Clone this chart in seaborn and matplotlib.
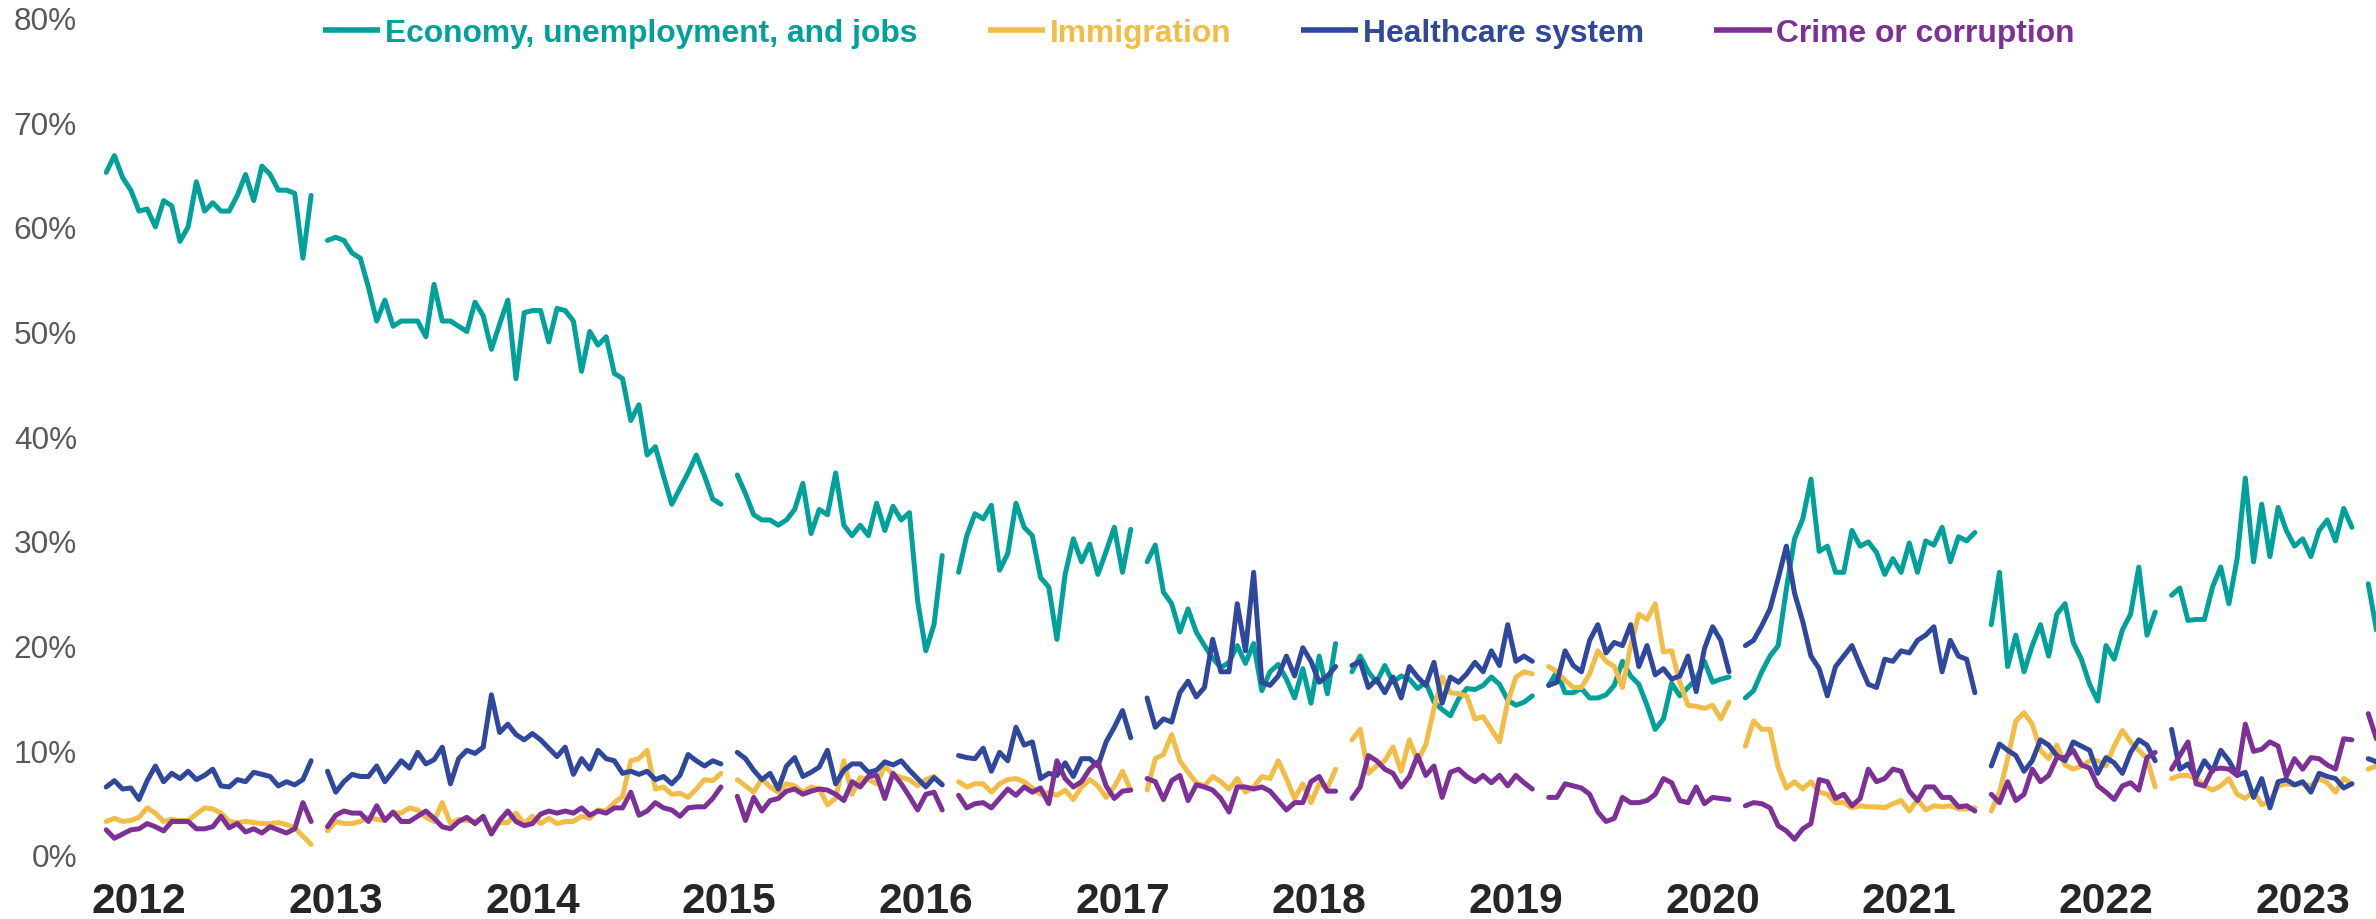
import numpy as np
import pandas as pd
import matplotlib
matplotlib.use("Agg")
import matplotlib.pyplot as plt
from matplotlib.lines import Line2D
import seaborn as sns

nan = float("nan")

series_names = ["Economy, unemployment, and jobs", "Immigration",
                "Healthcare system", "Crime or corruption"]
series_colors = ["#00A19A", "#F2BD47", "#2F479C", "#7D3096"]
year_ticks = list(range(2012, 2024))
pct_ticks = list(range(0, 81, 10))

# Semi-monthly readings (%), first reading = start of Nov 2011; nan = missing week (line break)
economy = [
    65.2, 66.8, 64.7, 63.5,
    61.5, 61.7, 60, 62.5, 62, 58.6, 60, 64.3, 61.5, 62.3, 61.5, 61.5, 63, 65, 62.5, 65.8, 65, 63.5, 63.5, 63.2, 57, 63, nan, 58.7,
    59, 58.7, 57.5, 57, 54.2, 51, 53, 50.5, 51, 51, 51, 49.5, 54.5, 51, 51, 50.5, 50, 52.8, 51.5, 48.3, 50.7, 53, 45.5, 51.8,
    52, 52, 49, 52.2, 52, 51, 46.2, 50, 48.7, 49.5, 46, 45.5, 41.5, 43, 38.2, 39, 36.2, 33.5, 35, 36.5, 38.2, 36.2, 34, 33.5,
    nan, 36.3, 34.5, 32.5, 32, 32, 31.5, 32, 33, 35.5, 30.7, 33, 32.5, 36.5, 31.5, 30.5, 31.5, 30.5, 33.6, 31, 33.3, 32, 32.7, 24.3,
    19.5, 22, 28.6, nan, 27, 30.5, 32.6, 32.1, 33.4, 27.2, 28.8, 33.6, 31.3, 30.5, 26.5, 25.6, 20.6, 26.8, 30.2, 28, 29.7, 26.8, 29, 31.3,
    27, 31.1, nan, 28, 29.6, 25.1, 24, 21.3, 23.5, 21.3, 20, 18.8, 17.9, 18.4, 20, 18.3, 20.2, 15.7, 17.5, 18.2, 16.8, 15, 17.8, 14.5,
    19, 15.4, 20.2, nan, 17.5, 19, 17.5, 16.5, 18.1, 16.5, 17.1, 16.8, 15.9, 16.5, 14.6, 13.9, 13.3, 14.9, 15.9, 15.8, 16.2, 17, 16.3, 14.8,
    14.3, 14.6, 15.2, nan, 16.2, 17.5, 15.5, 15.5, 15.9, 15, 15, 15.3, 16.2, 18.5, 17.1, 16.3, 14.3, 12, 13, 16.4, 15.2, 16, 16.8, 18.5,
    16.5, 16.8, 17, nan, 15, 15.7, 17.5, 19, 20, 25.4, 30.2, 32.1, 35.9, 29, 29.5, 27, 27, 31, 29.5, 29.9, 28.9, 26.8, 28.3, 27,
    29.8, 27, 30, 29.6, 31.3, 28, 30.4, 30, 30.8, nan, 22, 27, 18, 21, 17.5, 20, 22, 19, 23, 24, 20.3, 18.7, 16.3, 14.7,
    20, 18.7, 21.5, 23, 27.5, 21, 23.2, nan, 24.8, 25.5, 22.4, 22.5, 22.5, 25.6, 27.5, 24, 28.3, 36, 28, 33.5, 28.5, 33.2, 31, 29.5,
    30.2, 28.5, 31, 32, 30, 33.1, 31.3, nan, 25.9, 21.5,
]

immigration = [
    3.2, 3.5, 3.2, 3.3,
    3.6, 4.5, 4, 3.2, 3.4, 3.3, 3.3, 3.9, 4.5, 4.4, 4, 3.2, 3.1, 3.2, 3.1, 3, 3, 3.1, 2.9, 2.6, 1.8, 1.0, nan, 2.3,
    3.2, 3, 3, 3.2, 3.6, 3.4, 3.3, 4, 4, 4.5, 4.3, 3.6, 3.2, 5, 3, 3.4, 3.3, 3.2, 3.5, 2.3, 3.1, 3.1, 4, 3,
    3.7, 3, 3.5, 3, 3.2, 3.2, 3.7, 3.5, 4.3, 4.2, 5, 5.6, 9, 9.2, 10, 6.3, 6.5, 5.8, 5.9, 5.5, 6.3, 7.2, 7.1, 7.8,
    nan, 7.2, 6.6, 6, 7.3, 6.5, 6, 6.8, 6.6, 6, 6.5, 6.3, 4.8, 5.4, 9, 5.8, 7.4, 7.2, 6.8, 8.5, 7.7, 7.4, 7.2, 6.6,
    7.2, 7.5, 6.8, nan, 7, 6.5, 6.8, 6.8, 6, 6.8, 7.2, 7.3, 7, 6.4, 5.8, 6, 5.7, 6.2, 5.3, 6.5, 7.2, 6.6, 5.5, 6.5,
    8, 6.2, nan, 6.2, 9.2, 9.6, 11.5, 9, 7.9, 6.9, 6.6, 7.5, 7, 6.3, 7.3, 6, 6.5, 7.5, 7.3, 9, 7.3, 5.4, 6.8, 5,
    6.8, 6.4, 8.2, nan, 11, 12, 7.8, 8.5, 9, 10.3, 8, 11, 9, 10.5, 14, 17, 15.5, 15.4, 15.2, 13, 13.2, 12, 10.8, 14.6,
    17, 17.5, 17.3, nan, 18, 17.5, 16.7, 16, 16, 17.3, 19.5, 18.5, 18, 16, 20, 23, 22.5, 24, 19.4, 19.5, 16.5, 14.3, 14.2, 14,
    14.3, 13, 14.6, nan, 10.4, 12.8, 12, 12, 8.4, 6.4, 7, 6.3, 7, 6, 5.8, 5, 5, 4.5, 4.7, 4.6, 4.6, 4.5, 4.9, 5.2,
    4.2, 5.3, 4.3, 4.7, 4.6, 4.7, 4.4, 4.4, 4.5, nan, 4.2, 6, 9.2, 12.8, 13.6, 12.5, 10, 9.2, 10.5, 8.6, 8.2, 8.5, 9, 9,
    8.5, 10.4, 11.9, 10.8, 10, 9.2, 6.5, nan, 7.3, 7.6, 7.6, 7.3, 6.6, 6.2, 6.6, 7.3, 5.8, 5.4, 6.1, 4.8, 5.1, 6.6, 6.8, 6.7,
    6.8, 6.6, 7.3, 6.9, 6, 7.3, 6.8, nan, 8.2, 8.5,
]

healthcare = [
    6.5, 7.1, 6.3, 6.4,
    5.3, 7.1, 8.5, 7, 7.8, 7.3, 8, 7.2, 7.6, 8.2, 6.6, 6.5, 7.2, 7, 7.9, 7.7, 7.5, 6.6, 7, 6.7, 7.2, 9, nan, 8,
    6, 7, 7.7, 7.5, 7.5, 8.5, 7, 8, 9, 8.3, 9.8, 8.7, 9.1, 10.3, 6.8, 9.2, 10, 9.7, 10.3, 15.3, 11.7, 12.5, 11.5, 11,
    11.6, 11, 10.2, 9.4, 10.3, 7.7, 9.2, 8.2, 10, 9.2, 9, 7.8, 8, 7.7, 8, 7.2, 7.5, 6.8, 7.6, 9.6, 9, 8.5, 9, 8.7,
    nan, 9.8, 9.2, 8.1, 7.2, 7.8, 6.3, 8.5, 9.3, 7.5, 7.9, 8.4, 10, 6.8, 8.1, 8.7, 8.7, 7.9, 8.1, 8.9, 8.6, 9, 8.1, 7.3,
    6.5, 7.4, 6.7, nan, 9.5, 9.3, 9.2, 10.2, 8, 9.8, 9, 12.2, 10.5, 10.8, 7.3, 7.8, 7.6, 8.8, 7.5, 9.2, 9.2, 8.5, 10.8, 12.2,
    13.8, 11.2, nan, 15, 12.2, 13, 12.7, 15.5, 16.6, 15.1, 16, 20.6, 17.5, 17.5, 24, 19.5, 27, 16.5, 16.2, 17.1, 19, 17.1, 19.8, 18.5,
    16.5, 17.1, 18, nan, 18.1, 18.5, 16, 16.8, 15.5, 17, 15, 18, 17, 16.2, 18.4, 14.5, 17, 16.5, 17.3, 18.4, 17.5, 19.5, 18.1, 22,
    18.5, 19, 18.5, nan, 16.2, 16.5, 19.5, 18.1, 17.5, 20.5, 22, 19.3, 20.3, 20, 22, 18, 20, 17.2, 17.8, 16.8, 17.1, 19, 15.6, 19.7,
    21.8, 20.5, 17.5, nan, 20, 20.5, 21.9, 23.5, 26.4, 29.5, 25, 22.3, 19, 17.8, 15.2, 18, 19, 20, 18.1, 16.3, 16, 18.7, 18.5, 19.5,
    19.3, 20.5, 21, 21.8, 17.5, 20.5, 19, 18.7, 15.5, nan, 8.5, 10.6, 10, 9.5, 8, 9, 11, 10.5, 9.5, 9, 10.8, 10.4, 10, 7.8,
    9.3, 8.8, 7.8, 9.8, 11, 10.5, 9, nan, 12, 8.2, 8.7, 7.4, 9, 8, 10, 9, 7.6, 7.9, 5.5, 7.3, 4.5, 7, 7.2, 6.7,
    7, 6, 7.8, 7.5, 7.3, 6.4, 6.8, nan, 9.2, 8.9,
]

crime = [
    2.4, 1.6, 2, 2.4,
    2.5, 3, 2.7, 2.3, 3.2, 3.2, 3.2, 2.5, 2.5, 2.7, 3.7, 2.6, 3, 2.2, 2.5, 2.1, 2.7, 2.4, 2.1, 2.5, 5, 3.2, nan, 2.7,
    3.8, 4.2, 4, 4, 3.2, 4.7, 3.3, 4.1, 3.2, 3.2, 3.7, 4.2, 3.5, 2.7, 2.5, 3.2, 3.6, 3, 3.7, 2, 3.3, 4.2, 3.2, 2.8,
    3, 3.9, 4.2, 4, 4.2, 4, 4.5, 3.8, 4.2, 4, 4.5, 4.5, 6, 3.8, 4.2, 5, 4.5, 4.3, 3.7, 4.5, 4.6, 4.6, 5.4, 6.5,
    nan, 5.6, 3.3, 5.5, 4.2, 5.2, 5.4, 6.1, 6.3, 5.8, 6.1, 6.3, 6.2, 5.8, 5.2, 7, 6.5, 7.5, 7.6, 5.4, 7.8, 6.8, 5.6, 4.3,
    5.8, 6, 4.3, nan, 5.7, 4.5, 4.9, 5, 4.5, 5.4, 6.3, 5.7, 6.5, 6, 6.4, 4.9, 9, 7.3, 6.5, 7, 8.2, 8.9, 6.6, 5.4,
    6.1, 6.2, nan, 7.3, 7, 5.3, 7.1, 7.6, 5.2, 6.7, 6.5, 6.2, 5.4, 4.1, 6.5, 6.5, 6.3, 6.5, 6.1, 5.2, 4.3, 5, 5, 7,
    7.5, 6.1, 6.1, nan, 5.4, 6.5, 9.5, 9, 8.2, 7.8, 6.5, 7.5, 9.5, 7.6, 8.5, 5.5, 7.9, 8.2, 7.5, 7, 7.6, 6.9, 7.6, 6.6,
    7.6, 6.9, 6.3, nan, 5.5, 5.5, 6.8, 6.6, 6.4, 5.8, 4.1, 3.2, 3.5, 5.5, 5, 5, 5.2, 5.8, 7.3, 6.9, 5.2, 5, 6.5, 4.9,
    5.5, 5.4, 5.3, nan, 4.7, 5, 4.9, 4.5, 2.8, 2.3, 1.5, 2.5, 3, 7.2, 7, 5.4, 5.8, 4.7, 5.4, 8.2, 7, 7.3, 8.2, 8,
    6.1, 5.2, 6.5, 6.5, 5.5, 5.5, 4.6, 4.7, 4.2, nan, 5.8, 5, 7, 5.2, 5.8, 8.2, 7, 7.6, 9.3, 9.3, 10, 8.6, 8.3, 6.6,
    6, 5.3, 6.6, 6.9, 6.2, 9.3, 9.8, nan, 8.2, 9.5, 10.8, 6.8, 6.6, 8.2, 8.3, 8.2, 7.6, 12.5, 9.9, 10.1, 10.8, 10.4, 7.5, 9.2,
    8.2, 9.3, 9.2, 8.6, 8.2, 11.1, 11, nan, 13.5, 11.1,
]

# ---------------------------------------------------------------- data frame
frames = []
for name, vals in zip(series_names, [economy, immigration, healthcare, crime]):
    v = np.asarray(vals, dtype=float)
    t = 2011 + (20 + np.arange(len(v))) / 24.0
    seg = np.cumsum(np.isnan(v))
    df = pd.DataFrame({"t": t, "value": v, "series": name,
                       "segment": [f"{name}|{s}" for s in seg]})
    frames.append(df.dropna())
data = pd.concat(frames, ignore_index=True)

# ---------------------------------------------------------------- styling
sns.set_style("white")
plt.rcParams["font.family"] = ["Liberation Sans", "DejaVu Sans"]

W, H = 2376, 920
fig = plt.figure(figsize=(W / 100, H / 100), dpi=100)
px_left, px_right, px_bottom, px_top = 95, 2376, 856, 18.4
ax = fig.add_axes([px_left / W, 1 - px_bottom / H,
                   (px_right - px_left) / W, (px_bottom - px_top) / H])

sns.lineplot(data=data, x="t", y="value", hue="series", hue_order=series_names,
             palette=series_colors, units="segment", estimator=None, sort=False,
             linewidth=3.6, legend=False, ax=ax)

year_px = 196.7          # pixels per year
x0_px = 139              # pixel centre of "2012"
ax.set_xlim(2012 + (px_left - x0_px) / year_px, 2012 + (px_right - x0_px) / year_px)
ax.set_ylim(0, 80)

ax.set_xticks(year_ticks)
ax.set_xticklabels([str(y) for y in year_ticks], fontsize=30.7,
                   fontweight="bold", color="#262626")
ax.set_yticks(pct_ticks)
ax.set_yticklabels([f"{p}%" for p in pct_ticks], fontsize=22.7, color="#595959")
ax.tick_params(axis="x", length=0, pad=19)
ax.tick_params(axis="y", length=0, pad=13)
ax.set_xlabel("")
ax.set_ylabel("")
for s in ax.spines.values():
    s.set_visible(False)
ax.grid(False)

handles = [Line2D([0], [0], color=c, lw=4.0, solid_capstyle="butt") for c in series_colors]
leg = fig.legend(handles, series_names, loc="center",
                 bbox_to_anchor=(1199 / W, 1 - 34 / H), ncol=4, frameon=False,
                 handlelength=1.8, handletextpad=0.15, columnspacing=2.2,
                 borderpad=0, borderaxespad=0,
                 prop={"weight": "bold", "size": 22.9})
for txt, c in zip(leg.get_texts(), series_colors):
    txt.set_color(c)

fig.savefig("out.png", dpi=100)
